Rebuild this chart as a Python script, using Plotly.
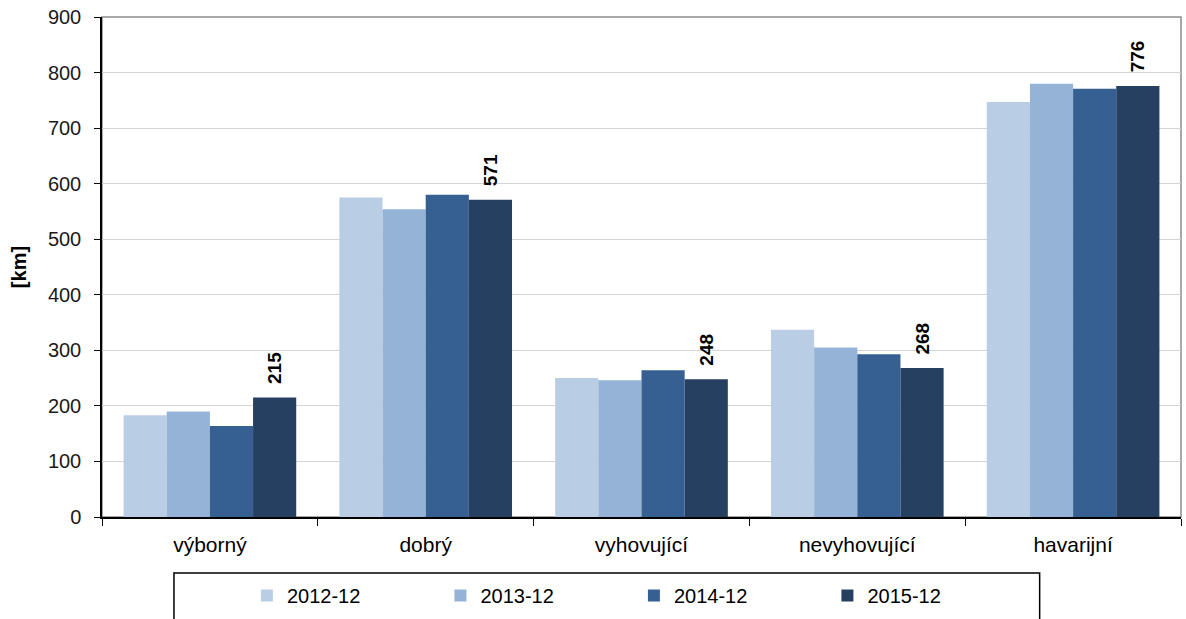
import plotly.graph_objects as go

categories = ["výborný", "dobrý", "vyhovující", "nevyhovující", "havarijní"]
series_names = ["2012-12", "2013-12", "2014-12", "2015-12"]
v2012 = [183, 575, 250, 337, 747]
v2013 = [190, 554, 246, 305, 780]
v2014 = [164, 580, 264, 293, 771]
v2015 = [215, 571, 248, 268, 776]
y_ticks = [0, 100, 200, 300, 400, 500, 600, 700, 800, 900]

colors = ["#B9CDE5", "#95B3D7", "#366092", "#254061"]
values = [v2012, v2013, v2014, v2015]

fig = go.Figure()
for i, (name, vals) in enumerate(zip(series_names, values)):
    kw = {}
    if i == 3:
        kw = dict(text=["\u00a0\u00a0" + str(v) for v in vals], textposition="outside", textangle=-90,
                  textfont=dict(family="Liberation Sans", size=19, color="#000000", weight="bold"),
                  cliponaxis=False)
    fig.add_trace(go.Bar(x=categories, y=vals, name=name,
                         marker=dict(color=colors[i], line=dict(width=0)), **kw))

fig.update_layout(
    width=1186, height=619,
    margin=dict(l=102, r=5, t=17, b=102, autoexpand=False),
    barmode="group", bargap=0.2, bargroupgap=0,
    plot_bgcolor="white", paper_bgcolor="white",
    font=dict(family="Liberation Sans", size=20, color="#1a1a1a"),
    showlegend=True,
    legend=dict(orientation="h", x=0.1343, xanchor="left", y=-0.118, yanchor="top",
                entrywidth=148.5, entrywidthmode="pixels", itemwidth=30,
                font=dict(family="Liberation Sans", size=20, color="#000000"),
                bgcolor="rgba(0,0,0,0)", traceorder="normal"),
)
fig.update_xaxes(automargin=False, showline=True, linecolor="#000000", linewidth=1.5,
                 ticks="outside", tickson="boundaries", ticklen=7, tickcolor="#000000",
                 ticklabelstandoff=8,
                 tickfont=dict(size=21, color="#000000"), showgrid=False)
fig.update_yaxes(automargin=False, range=[0, 900], tickvals=y_ticks, showline=True, linecolor="#000000",
                 linewidth=1.5, ticks="outside", ticklen=6, tickcolor="#000000",
                 ticklabelstandoff=9,
                 showgrid=True, gridcolor="#D4D4D4", gridwidth=1.3,
                 tickfont=dict(size=20, color="#1a1a1a"),
                 title=dict(text="<b>[km]</b>", font=dict(size=20, color="#000000"), standoff=16),
                 zeroline=False)
# plot area border (top/right gray)
fig.add_shape(type="rect", xref="paper", yref="paper", x0=0, x1=1, y0=0, y1=1,
              line=dict(color="#8C8C8C", width=1.5), layer="below")
# legend box
fig.add_shape(type="rect", xref="paper", yref="paper", x0=0.0667, x1=0.869, y0=-0.112, y1=-0.216,
              line=dict(color="#000000", width=1.5), layer="above")
fig.write_html("out.html", config={"displayModeBar": False},
               post_script="document.body.style.margin='0';document.body.style.overflow='hidden';")
